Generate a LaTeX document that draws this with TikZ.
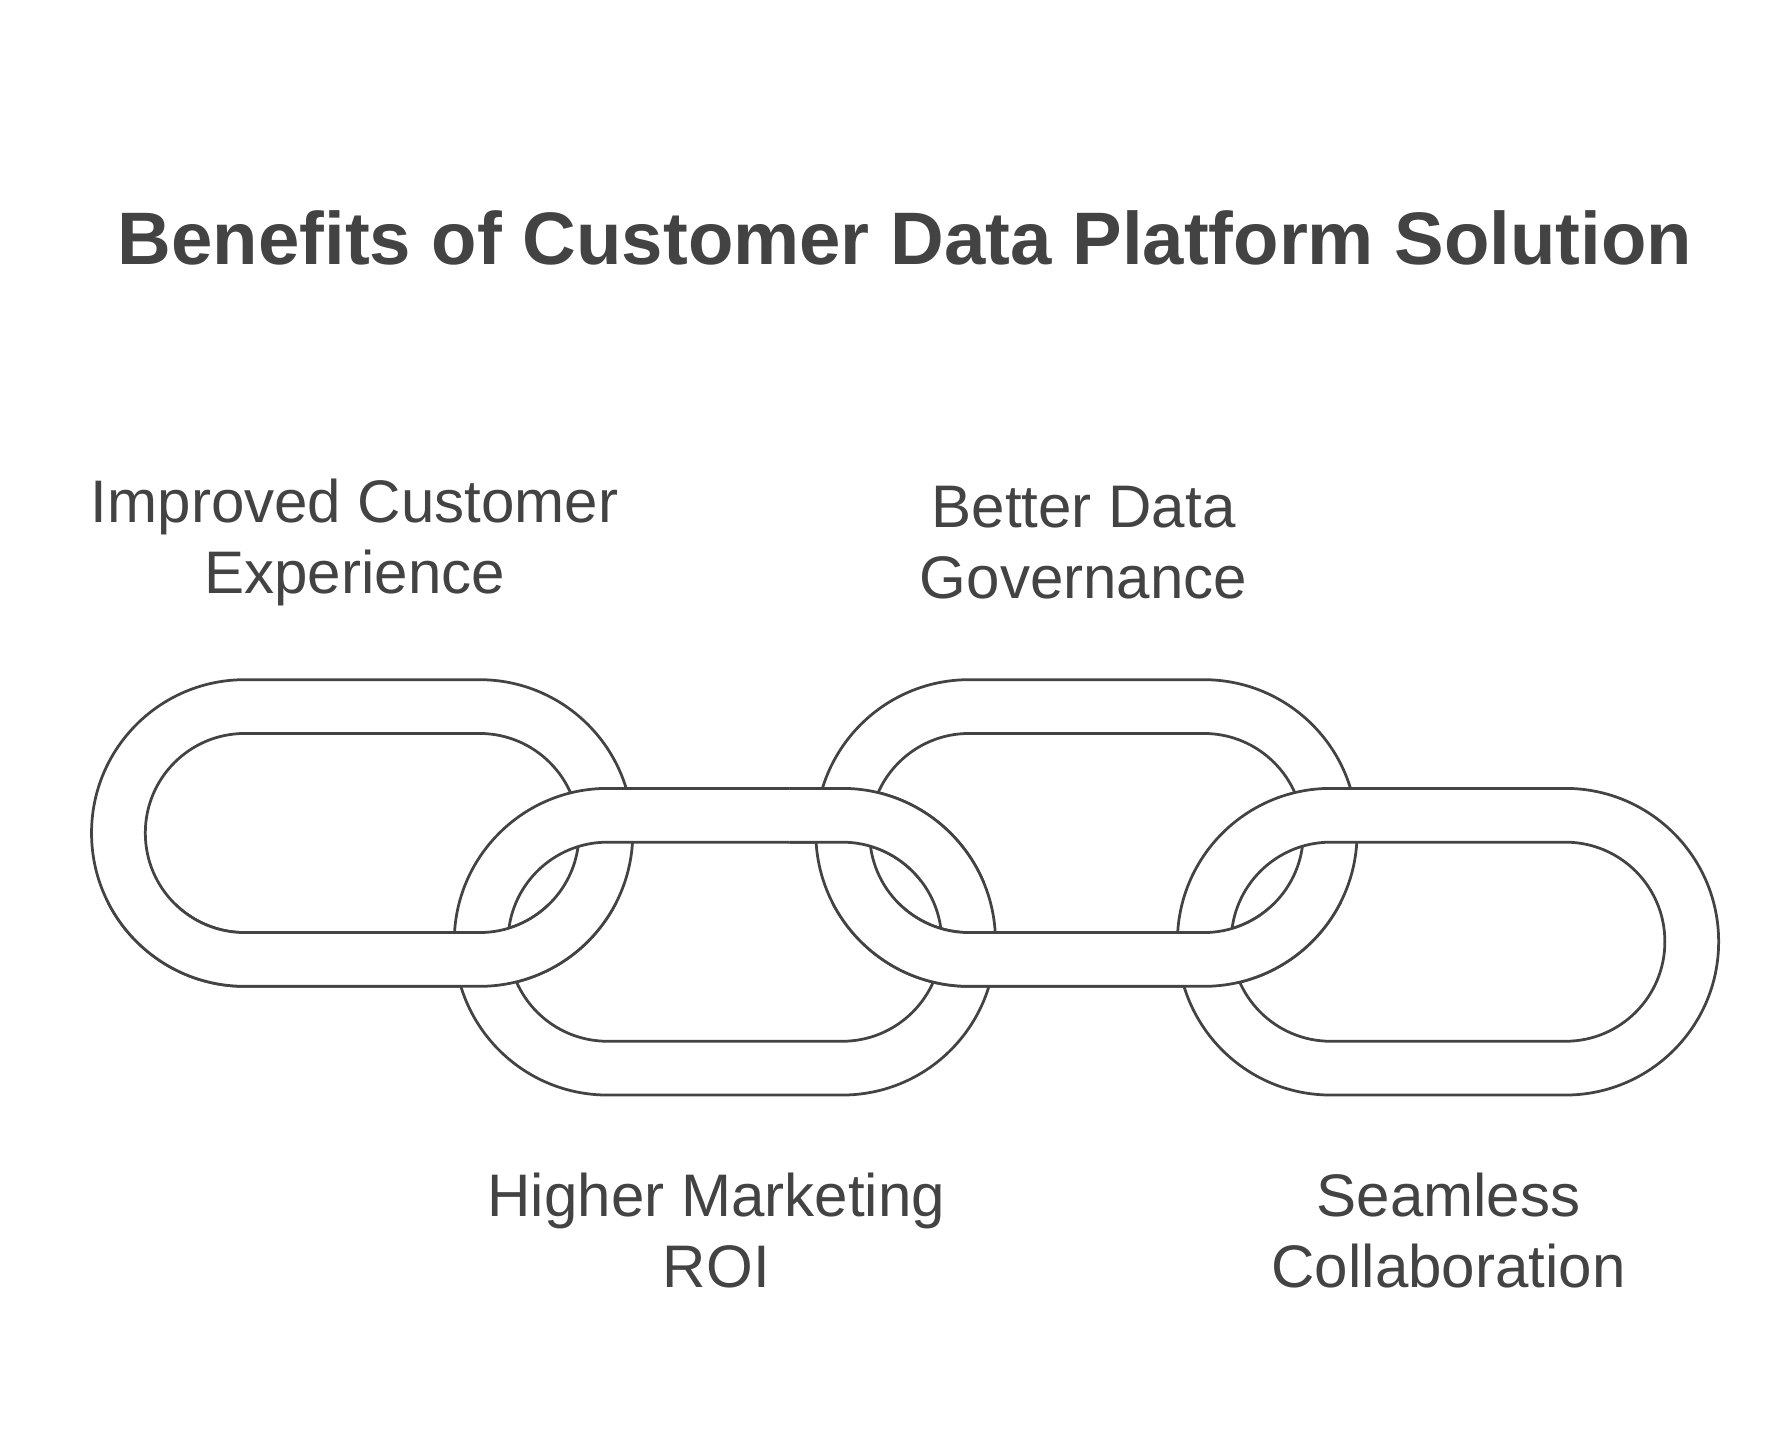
\documentclass[tikz,border=0pt]{standalone}
\usepackage{fontspec}
\setmainfont{Liberation Sans}
\begin{document}
\begin{tikzpicture}[x=1pt,y=-1pt,
  ring/.style={draw=ink,line width=2.4pt,fill=white,even odd rule},
  lbl/.style={text=ink,font=\fontsize{52.5}{62}\selectfont,align=center}]
\definecolor{ink}{HTML}{434343}
\useasboundingbox (0,0) rectangle (1560,1261);
\newcommand{\chainlink}[2]{%
  \path[ring] [rounded corners=133.9] (#1,#2) rectangle ++(473,268)
    [rounded corners=86.9] (#1+47,#2+47) rectangle ++(379,174);}
\chainlink{80}{594}
\chainlink{397}{689}
\chainlink{713}{594}
\begin{scope}
\clip (690,0) rectangle (900,770);
\chainlink{397}{689}
\end{scope}
\chainlink{1029}{689}
\begin{scope}
\clip (0,790) rectangle (1560,1000);
\chainlink{80}{594}
\chainlink{713}{594}
\end{scope}
\node[text=ink,font=\fontsize{65}{76}\selectfont\bfseries] (title) at (791,208) {Benefits of Customer Data Platform Solution};
\node[lbl] (l1) at (310,474) {Improved Customer\\Experience};
\node[lbl] (l2) at (626,1075) {Higher Marketing\\ROI};
\node[lbl] (l3) at (947,474) {Better Data\\Governance};
\node[lbl] (l4) at (1266,1075) {Seamless\\Collaboration};
\end{tikzpicture}
\end{document}
